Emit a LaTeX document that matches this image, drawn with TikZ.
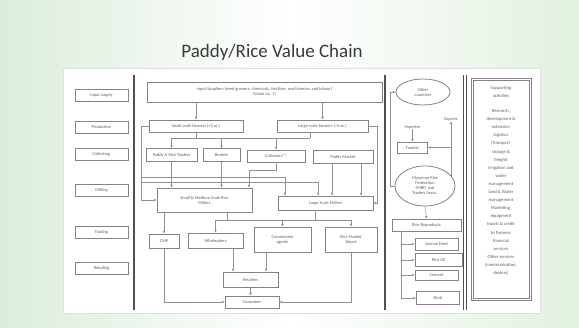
\documentclass[tikz,border=0pt]{standalone}
\usepackage{fontspec}
\setmainfont{Carlito}
\usetikzlibrary{arrows.meta,shapes.geometric}
\definecolor{boxgray}{RGB}{130,130,130}
\definecolor{lngray}{RGB}{145,145,145}
\definecolor{txtgray}{RGB}{95,95,95}
\definecolor{divgray}{RGB}{80,80,80}
\definecolor{bgleft}{RGB}{220,237,220}
\definecolor{bgright}{RGB}{226,241,224}
\definecolor{titlegray}{RGB}{58,58,58}
\begin{document}
\begin{tikzpicture}[x=1pt,y=-1pt,
  box/.style={draw=boxgray, line width=0.8pt, fill=white, text=txtgray,
    font=\fontsize{4.4}{5}\selectfont, align=center, inner sep=0pt},
  stagebox/.style={box, minimum width=53pt, minimum height=12pt},
  oval/.style={box, ellipse},
  lbl/.style={text=txtgray, font=\fontsize{4.4}{5}\selectfont, inner sep=0.5pt},
  ln/.style={draw=lngray, line width=0.45pt},
  arr/.style={ln, -{Latex[length=2.6pt,width=2.6pt]}},
  divider/.style={draw=divgray, line width=1.4pt},
  frame/.style={draw=boxgray, line width=0.8pt, inner sep=0pt},
]
% background
\useasboundingbox (0,0) rectangle (579,328);
\shade[left color=bgleft, right color=bgright, middle color=white] (0,0) rectangle (579,328);
\fill[white] (63,68) rectangle (540,313);
\draw[draw=black!12, line width=0.5pt] (63,68) rectangle (540,313);

% title
\node[text=titlegray, font=\fontsize{19}{21}\selectfont] (title) at (272,52) {Paddy/Rice Value Chain};

% dividers
\draw[divider] (134,75) -- (134,310);
\draw[divider] (385,75) -- (385,310);
\draw[draw=divgray, line width=0.8pt] (463.5,75) -- (463.5,310);
\draw[draw=divgray, line width=0.8pt] (466.5,75) -- (466.5,310);

% stage boxes
\node[stagebox] (inp)  at (101.5,95)  {Input supply};
\node[stagebox] (prod) at (101.5,127) {Production};
\node[stagebox] (coll) at (101.5,154) {Collecting};
\node[stagebox] (mill) at (101.5,190) {Milling};
\node[stagebox] (trad) at (101.5,232) {Trading};
\node[stagebox] (retl) at (101.5,268) {Retailing};

% main chain
\node[box, minimum width=235pt, minimum height=20pt] (top) at (264.5,92)
  {Input Suppliers (seed growers, chemicals, fertilizer, machineries, and labour)\\(Value no. 1)};
\node[box, minimum width=94pt, minimum height=12pt] (small) at (196,126) {Small scale farmers (\textless 5 ac.)};
\node[box, minimum width=91pt, minimum height=12pt] (large) at (322.5,126) {Large scale farmers (\textgreater 5 ac.)};

\node[box, minimum width=51pt, minimum height=13pt] (pcol) at (171.5,155) {Paddy \& Rice Traders};
\node[box, minimum width=37pt, minimum height=13pt] (brok) at (221.5,155) {Brokers};
\node[box, minimum width=58pt, minimum height=12pt] (colx) at (276,156) {Collectors**};
\node[box, minimum width=60pt, minimum height=13pt] (pmkt) at (343,157) {Paddy Market};

\node[box, minimum width=95pt, minimum height=24pt] (smm) at (204.5,200) {Small \& Medium Scale Rice\\Millers};
\node[box, minimum width=95pt, minimum height=14pt] (lsm) at (325.5,203) {Large Scale Millers};

\node[box, minimum width=30pt, minimum height=14pt] (cmp) at (164,241) {CMP};
\node[box, minimum width=55pt, minimum height=15pt] (whl) at (215.5,240.5) {Wholesalers};
\node[box, minimum width=57pt, minimum height=25pt] (com) at (282.5,239.5) {Commission\\agents};
\node[box, minimum width=52pt, minimum height=25pt] (rmd) at (351,239.5) {Rice Market\\Depot};

\node[box, minimum width=55pt, minimum height=15pt] (rtl) at (250.5,279.5) {Retailers};
\node[box, minimum width=54pt, minimum height=12pt] (cons) at (252,302) {Consumer};

% connectors main chain
\draw[arr] (top.south -| small.north) -- (small.north);
\draw[arr] (top.south -| large.north) -- (large.north);

\coordinate (b1) at (171.5,138);
\coordinate (b2) at (310,138);
\draw[ln] (b1) -- (b2);
\draw[ln] (small.south) -- (small.south |- b1);
\draw[ln] ([xshift=-12.5pt]large.south) -- ([xshift=-12.5pt]large.south |- b2);
\draw[arr] (b1) -- (pcol.north);
\draw[arr] (brok.north |- b1) -- (brok.north);
\draw[arr] (colx.north |- b1) -- (colx.north);

\draw[arr] (small.west) -- ++(-7,0) |- (smm.west);
\coordinate (j1) at (142,177);
\coordinate (j2) at (142,182);
\draw[arr] (j1) -| ([xshift=-40.5pt]lsm.north);
\draw[arr] (j2) -| ([xshift=-7.5pt]lsm.north);

\draw[arr] (pcol.south) -- (pcol.south |- smm.north);
\draw[arr] (brok.south) -- (brok.south |- smm.north);
\draw[arr] (colx.south) -- ++(0,8) -| ([xshift=-3.5pt]smm.north east);

\draw[arr] ([xshift=-11pt]pmkt.south) -- ([xshift=-11pt]pmkt.south |- lsm.north);
\draw[arr] ([xshift=18pt]pmkt.south) -- ([xshift=18pt]pmkt.south |- lsm.north);
\draw[arr] (large.east) -- ++(9,0) |- (lsm.east);

\draw[arr] (smm.south -| cmp.north) -- (cmp.north);
\coordinate (t1) at (215.5,220);
\coordinate (t2) at (351,220);
\draw[ln] (t1) -- (t2);
\draw[ln] ([xshift=22.5pt]smm.south) -- ([xshift=22.5pt]smm.south |- t1);
\draw[ln] ([xshift=-10.5pt]lsm.south) -- ([xshift=-10.5pt]lsm.south |- t1);
\draw[arr] (t1) -- (whl.north);
\draw[arr] (com.north |- t1) -- (com.north);
\draw[arr] (t2) -- (rmd.north);

\draw[arr] ([xshift=17.5pt]whl.south) -- ([xshift=17.5pt]whl.south |- rtl.north);
\draw[arr] ([xshift=-16.5pt]com.south) -- ([xshift=-16.5pt]com.south |- rtl.north);
\draw[arr] (rtl.south) -- (rtl.south |- cons.north);
\draw[arr] (cmp.south) |- (cons.west);
\draw[arr] (rmd.south) |- (cons.east);

% right part
\node[oval, minimum width=54pt, minimum height=26pt] (oc) at (423,92) {Other\\countries};
\node[lbl] (lbl1) at (412.5,127) {Importer};
\node[lbl] (lbl2) at (451,119) {Exports};
\node[box, minimum width=30pt, minimum height=11pt] (trd) at (412.5,147.5) {Traders};
\node[oval, minimum width=60pt, minimum height=40pt] (mrf) at (425,186)
  {Myanmar Rice\\Federation\\(MRF) and\\Traders Assoc.};
\node[box, minimum width=69pt, minimum height=12pt] (byp) at (426.5,225) {Rice Byproducts};
\node[box, minimum width=43pt, minimum height=12pt] (feed) at (436.5,244) {Animal Feed};
\node[box, minimum width=47pt, minimum height=13pt] (oil) at (438.5,260) {Rice Oil};
\node[box, minimum width=43pt, minimum height=10pt] (cem) at (436.5,275) {Cement};
\node[box, minimum width=43pt, minimum height=13pt] (brick) at (438,298) {Brick};

\draw[arr] (mrf.west) -- ++(-4,0) |- (oc.west);
\draw[arr] (lbl1.south) -- (trd.north);
\coordinate (e1) at (451,177);
\draw[arr] (e1) -- (lbl2.south);
\draw[arr] (lbl2.south |- trd.east) -- (trd.east);
\draw[arr] (mrf.south) -- (byp.north);
\coordinate (v1) at ([xshift=-25.5pt]byp.south);
\draw[arr] (v1) |- (feed.west);
\draw[arr] (v1) |- (oil.west);
\draw[arr] (v1) |- (cem.west);
\draw[arr] (v1) |- (brick.west);

% supporting activities
\node[frame, minimum width=60pt, minimum height=222pt] (sup) at (501,189) {};
\node[frame, minimum width=56pt, minimum height=218pt] (supin) at (501,189) {};
\node[anchor=north, text=txtgray, font=\fontsize{4.6}{8.1}\selectfont, align=center, inner sep=0pt]
  (suptext) at (501,86) {Supporting\\activities\\[7pt]Research,\\development \&\\extension\\logistics\\(Transport,\\storage \&\\freight)\\Irrigation and\\water\\management\\land \& Water\\management\\Marketing,\\equipment\\Inputs \& credit\\to Farmers\\financial\\services\\Other services\\(communication,\\dealers)};
\end{tikzpicture}
\end{document}
